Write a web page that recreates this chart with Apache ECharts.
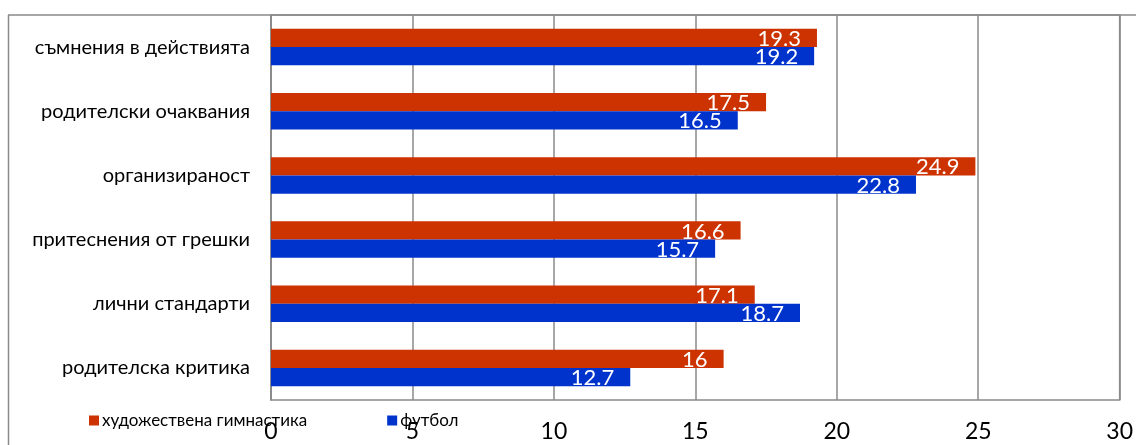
<!DOCTYPE html>
<html>
<head>
<meta charset="utf-8">
<script src="https://cdn.jsdelivr.net/npm/echarts@6/dist/echarts.min.js"></script>
<style>
  html, body { margin: 0; padding: 0; background: #fff; }
  #chart { width: 1136px; height: 445px; }
</style>
</head>
<body>
<div id="chart"></div>
<script>
// Perfectionism subscales: rhythmic gymnastics vs football
const categories = [
  'съмнения в действията',
  'родителски очаквания',
  'организираност',
  'притеснения от грешки',
  'лични стандарти',
  'родителска критика'
];
const seriesNames = ['художествена гимнастика', 'футбол'];
const gymnastics = [19.3, 17.5, 24.9, 16.6, 17.1, 16];
const football = [19.2, 16.5, 22.8, 15.7, 18.7, 12.7];
const xTicks = [0, 5, 10, 15, 20, 25, 30];

const FONT = "Lato, 'Noto Sans', sans-serif";
const LINE = '#8a8a8a';

const chart = echarts.init(document.getElementById('chart'), null, { renderer: 'canvas' });

const valueLabel = {
  show: true,
  position: 'insideRight',
  distance: 16,
  offset: [0, 1],
  color: '#fff',
  fontFamily: FONT,
  fontSize: 22,
  formatter: p => String(p.value)
};

chart.setOption({
  animation: false,
  grid: {
    left: 271, right: 16, top: 15, bottom: 45,
    show: true, borderColor: LINE, borderWidth: 1.5, containLabel: false
  },
  legend: {
    data: seriesNames,
    left: 84, top: 407,
    itemWidth: 10, itemHeight: 10, itemGap: 80,
    icon: 'rect',
    textStyle: { fontFamily: FONT, fontSize: 17, color: '#000', padding: [0, 0, 0, -2] }
  },
  xAxis: {
    type: 'value',
    min: xTicks[0], max: xTicks[xTicks.length - 1], interval: xTicks[1] - xTicks[0],
    axisLine: { show: false },
    axisTick: { show: false },
    splitLine: { show: true, lineStyle: { color: LINE, width: 1.5 } },
    axisLabel: { color: '#000', fontFamily: FONT, fontSize: 23, margin: 20 }
  },
  yAxis: {
    type: 'category',
    data: categories,
    inverse: true,
    axisLine: { show: true, lineStyle: { color: LINE, width: 1.5 } },
    axisTick: { show: false },
    axisLabel: { color: '#000', fontFamily: FONT, fontSize: 20, margin: 21 }
  },
  graphic: [
    { type: 'line', shape: { x1: 8.5, y1: 15, x2: 8.5, y2: 445 }, style: { stroke: LINE, lineWidth: 1.5 } },
    { type: 'line', shape: { x1: 8, y1: 15, x2: 1136, y2: 15 }, style: { stroke: LINE, lineWidth: 1.5 } }
  ],
  series: [
    {
      name: seriesNames[0], type: 'bar', data: gymnastics,
      barGap: '0%', barCategoryGap: '43%',
      itemStyle: { color: '#cc3300' },
      label: valueLabel
    },
    {
      name: seriesNames[1], type: 'bar', data: football,
      barGap: '0%', barCategoryGap: '43%',
      itemStyle: { color: '#0033cc' },
      label: valueLabel
    }
  ]
});
</script>
</body>
</html>
